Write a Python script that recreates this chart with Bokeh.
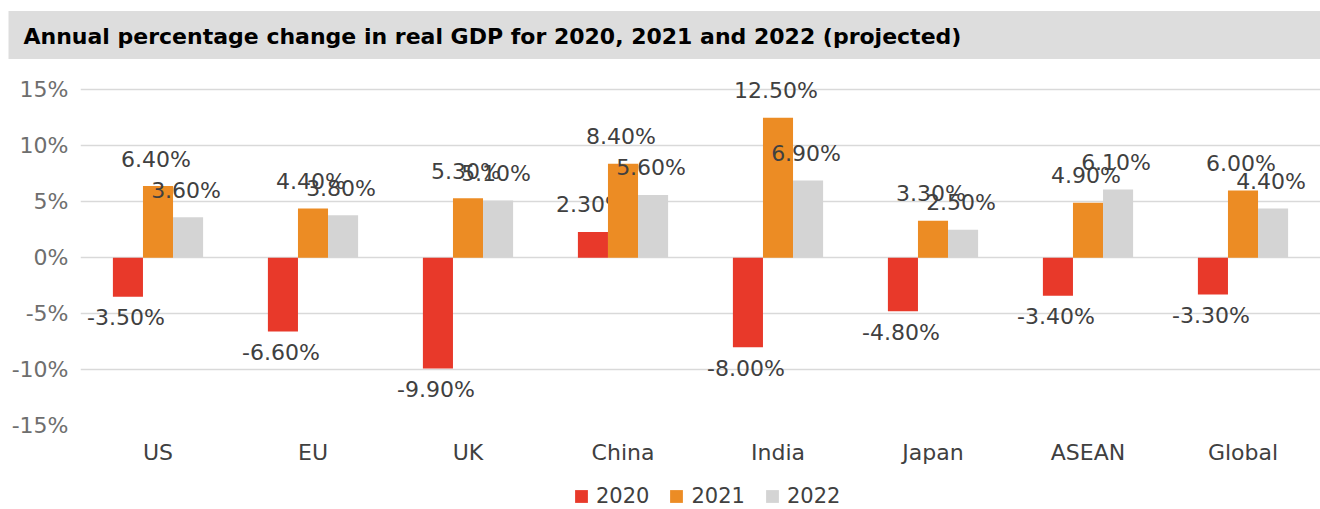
from bokeh.plotting import figure
from bokeh.models import (ColumnDataSource, FactorRange, Range1d, Title, Legend,
                          LegendItem, FixedTicker)
from bokeh.transform import dodge
from bokeh.layouts import column
from bokeh.core.properties import value
from bokeh.embed import file_html
from bokeh.resources import INLINE

# ---------------- data ----------------
title_text = "Annual percentage change in real GDP for 2020, 2021 and 2022 (projected)"
regions = ["US", "EU", "UK", "China", "India", "Japan", "ASEAN", "Global"]
gdp_2020 = [-3.5, -6.6, -9.9, 2.3, -8.0, -4.8, -3.4, -3.3]
gdp_2021 = [6.4, 4.4, 5.3, 8.4, 12.5, 3.3, 4.9, 6.0]
gdp_2022 = [3.6, 3.8, 5.1, 5.6, 6.9, 2.5, 6.1, 4.4]
years = ["2020", "2021", "2022"]
y_ticks = [-15, -10, -5, 0, 5, 10, 15]
y_tick_labels = ["-15%", "-10%", "-5%", "0%", "5%", "10%", "15%"]

# ---------------- styles ----------------
FONT = "DejaVu Sans"
colors = ["#E8392A", "#EC8C24", "#D4D4D4"]
TEXT_DARK = "#404040"
TEXT_GREY = "#6e6e6e"
GRID = "#d9d9d9"
BAR_W = 0.194
offsets = [-BAR_W, 0.0, BAR_W]
W = 1320

series = [gdp_2020, gdp_2021, gdp_2022]
data = {"region": regions}
for yr, vals in zip(years, series):
    data["v" + yr] = vals
    data["l" + yr] = ["%.2f%%" % v for v in vals]
    data["o" + yr] = [-27 if v >= 0 else 21 for v in vals]
src = ColumnDataSource(data)

# ---------------- main chart ----------------
p = figure(width=W, height=470, x_range=FactorRange(*regions), y_range=Range1d(-15, 17.44),
           toolbar_location=None, output_backend="svg",
           min_border_top=62, min_border_bottom=45, min_border_left=80, min_border_right=0,
           outline_line_color=None, border_fill_color="white")

# title bar: grey band across the top
p.title = Title(text=title_text, align="left", offset=-72, standoff=7,
                text_font=FONT, text_font_style="bold", text_font_size="22px",
                text_color="#000000", background_fill_color="#dddddd",
                padding=dict(left=15, right=420, top=13, bottom=10))

for yr, off, col in zip(years, offsets, colors):
    p.vbar(x=dodge("region", off, range=p.x_range), top="v" + yr, width=BAR_W,
           source=src, fill_color=col, line_color=None)
    p.text(x=dodge("region", off, range=p.x_range), y="v" + yr, text="l" + yr,
           y_offset="o" + yr, x_offset=-2, source=src,
           text_font=value(FONT), text_font_size="22px", text_color=TEXT_DARK,
           text_align="center", text_baseline="middle")

p.xgrid.visible = False
p.ygrid.ticker = FixedTicker(ticks=y_ticks)
p.ygrid.grid_line_color = GRID
p.ygrid.grid_line_width = 1.5

p.yaxis.ticker = FixedTicker(ticks=y_ticks)
p.yaxis.major_label_overrides = {t: s for t, s in zip(y_ticks, y_tick_labels)}
p.yaxis.axis_line_color = None
p.yaxis.major_tick_line_color = None
p.yaxis.minor_tick_line_color = None
p.yaxis.major_tick_out = 0
p.yaxis.minor_tick_out = 0
p.yaxis.major_label_standoff = 12
p.yaxis.major_label_text_font = FONT
p.yaxis.major_label_text_font_size = "22px"
p.yaxis.major_label_text_color = TEXT_GREY

p.xaxis.axis_line_color = None
p.xaxis.major_tick_line_color = None
p.xaxis.minor_tick_line_color = None
p.xaxis.major_tick_out = 0
p.xaxis.minor_tick_out = 0
p.xaxis.major_label_standoff = 14
p.xaxis.major_label_text_font = FONT
p.xaxis.major_label_text_font_size = "22px"
p.xaxis.major_label_text_color = TEXT_DARK

# ---------------- legend strip ----------------
# same series drawn in a strip whose value range lies far above the data,
# so only their legend swatches show
lf = figure(width=W, height=39, x_range=FactorRange(*regions), y_range=Range1d(1000, 1001),
            toolbar_location=None, output_backend="svg",
            x_axis_location=None, y_axis_location=None,
            min_border_top=0, min_border_bottom=0, min_border_left=80, min_border_right=0,
            outline_line_color=None, border_fill_color="white", background_fill_color="white")
lf.grid.visible = False
swatches = [lf.vbar(x=dodge("region", off, range=lf.x_range), top="v" + yr, width=BAR_W,
                    source=src, fill_color=col, line_color=None)
            for yr, off, col in zip(years, offsets, colors)]
legend = Legend(items=[LegendItem(label=yr, renderers=[r]) for yr, r in zip(years, swatches)],
                orientation="horizontal", location=(493, 1),
                glyph_width=16, glyph_height=16, label_standoff=7, spacing=19,
                padding=0, margin=0, border_line_color=None, background_fill_alpha=0,
                label_text_font=FONT, label_text_font_size="21px", label_text_color=TEXT_DARK)
lf.add_layout(legend, "center")

layout = column(p, lf, spacing=0)
open("out.html", "w").write(file_html(layout, INLINE))
